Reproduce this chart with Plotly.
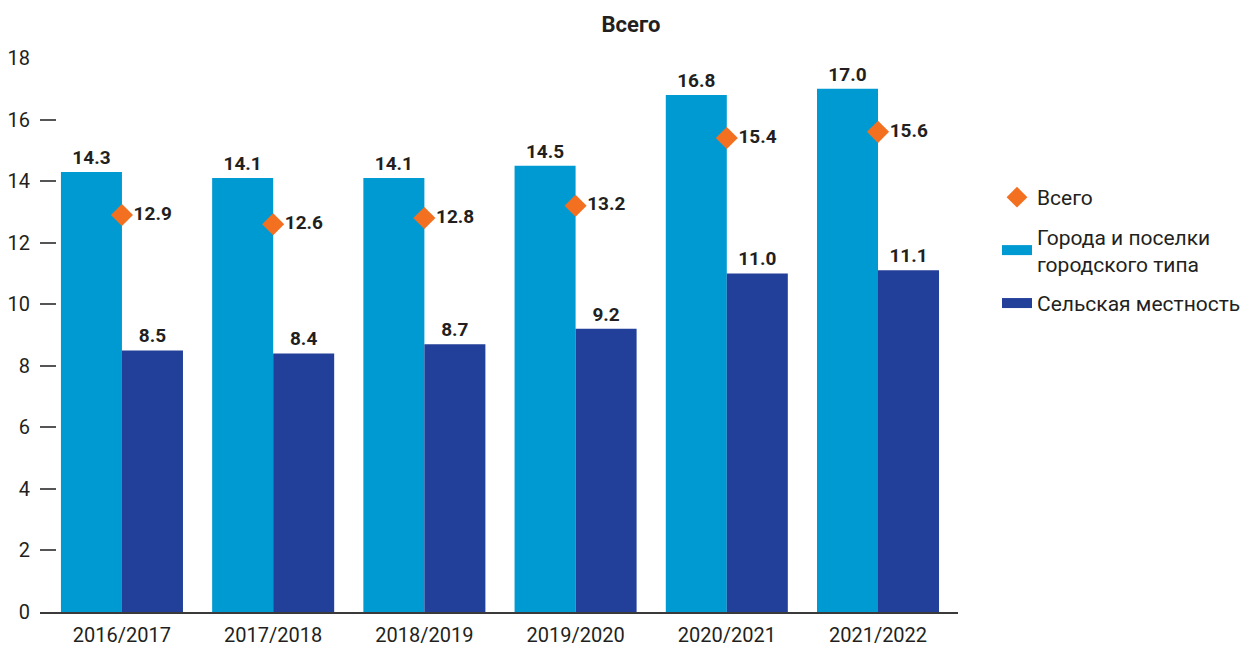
import plotly.graph_objects as go

years = ["2016/2017", "2017/2018", "2018/2019", "2019/2020", "2020/2021", "2021/2022"]
urban = [14.3, 14.1, 14.1, 14.5, 16.8, 17.0]
rural = [8.5, 8.4, 8.7, 9.2, 11.0, 11.1]
total = [12.9, 12.6, 12.8, 13.2, 15.4, 15.6]

C_URBAN = "#009AD2"
C_RURAL = "#223F99"
C_TOTAL = "#F37021"
TXT = "#231F20"
FONT = "Roboto"

fig = go.Figure()
fig.add_trace(go.Bar(
    x=years, y=urban, name="Города и поселки<br>городского типа",
    marker=dict(color=C_URBAN, line=dict(width=0)),
    texttemplate="%{y:.1f}", textposition="outside", cliponaxis=False,
    textfont=dict(family=FONT, size=19, color=TXT, weight="bold"),
    showlegend=False,
))
fig.add_trace(go.Bar(
    x=years, y=rural, name="Сельская местность",
    marker=dict(color=C_RURAL, line=dict(width=0)),
    texttemplate="%{y:.1f}", textposition="outside", cliponaxis=False,
    textfont=dict(family=FONT, size=19, color=TXT, weight="bold"),
    showlegend=False,
))
fig.add_trace(go.Scatter(
    x=years, y=total, name="Всего", mode="markers+text",
    marker=dict(symbol="diamond", size=17, color=C_TOTAL),
    text=[f"{v:.1f}" for v in total], textposition="middle right",
    textfont=dict(family=FONT, size=19, color=TXT, weight="bold"),
    cliponaxis=False, showlegend=True, legendgroup="g1",
))
# legend-only entries for the bars (wide rectangle swatches)
fig.add_trace(go.Scatter(
    x=[None], y=[None], mode="lines", name="Города и поселки<br>городского типа",
    line=dict(color=C_URBAN, width=14), showlegend=True, legendgroup="g2",
))
fig.add_trace(go.Scatter(
    x=[None], y=[None], mode="lines", name="Сельская местность",
    line=dict(color=C_RURAL, width=14), showlegend=True, legendgroup="g3",
))

W, H = 1240, 639
fig.update_layout(
    width=W, height=H,
    margin=dict(l=32, r=290, t=50, b=35, autoexpand=False),
    paper_bgcolor="white", plot_bgcolor="white",
    font=dict(family=FONT, size=20, color=TXT),
    barmode="group", bargap=0.193, bargroupgap=0,
    title=dict(text="<b>Всего</b>", x=623/W, xref="container", xanchor="center",
               y=0.975, yref="container", yanchor="middle",
               font=dict(family=FONT, size=22, color=TXT)),
    legend=dict(x=989/W, xref="container", y=1-169/H, yref="container", yanchor="top",
                xanchor="left", font=dict(family=FONT, size=21, color=TXT),
                tracegroupgap=9, itemwidth=30, bgcolor="rgba(0,0,0,0)"),
    xaxis=dict(type="category", range=[-0.542, 5.529], showgrid=False, automargin=False,
               showline=True, linecolor="#3a3a3a", linewidth=1.5, ticklabelstandoff=4,
               ticks="", tickfont=dict(family=FONT, size=20, color=TXT)),
    yaxis=dict(range=[0, 18], dtick=2, showgrid=False, zeroline=False, automargin=False,
               showline=False, ticks="inside", ticklen=16, tickcolor="#555555",
               tickwidth=1.5, ticklabelstandoff=9,
               tickfont=dict(family=FONT, size=20, color=TXT)),
)

fig.write_html("out.html")
